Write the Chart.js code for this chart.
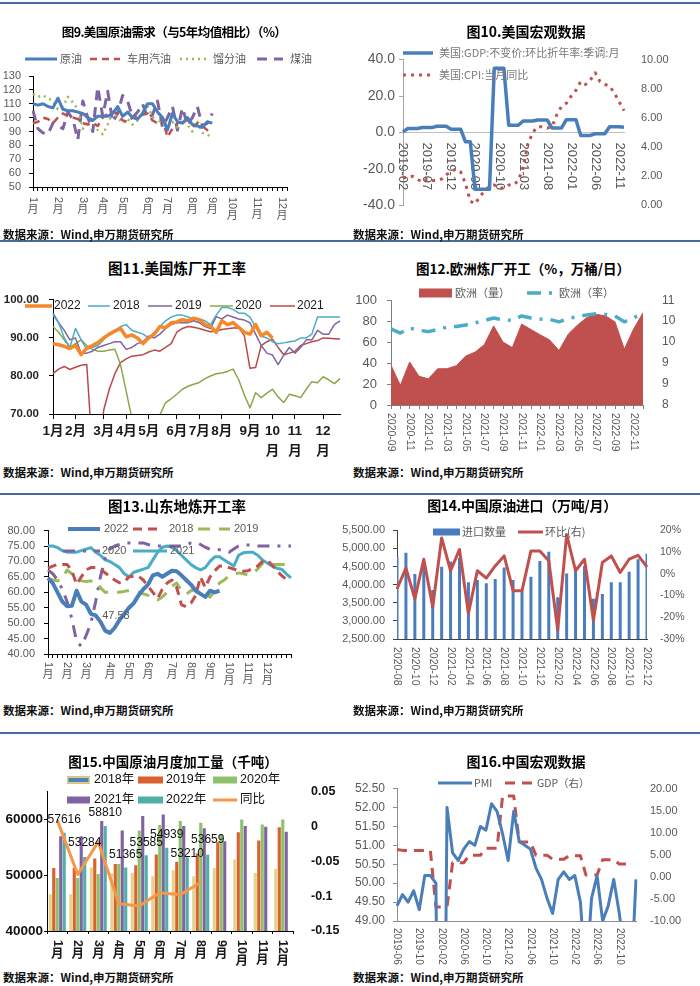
<!DOCTYPE html>
<html>
<head>
<meta charset="utf-8">
<script src="https://cdn.jsdelivr.net/npm/chart.js@4.4.1/dist/chart.umd.min.js"></script>
<style>
html,body{margin:0;padding:0;}
body{width:700px;height:986px;position:relative;background:#fff;overflow:hidden;}
.sep{position:absolute;left:0;width:700px;height:2px;background:#4a6a9c;}
.ttl{position:absolute;width:420px;text-align:center;font-family:"Noto Sans CJK SC",sans-serif;font-weight:700;color:#000;line-height:20px;height:20px;white-space:nowrap;}
.src{position:absolute;font-family:"Noto Sans CJK SC",sans-serif;font-size:11.5px;font-weight:700;color:#111;line-height:16px;white-space:nowrap;}
canvas{position:absolute;}
</style>
</head>
<body>
<div class="sep" style="top:2px"></div>
<div class="sep" style="top:240px"></div>
<div class="sep" style="top:493px"></div>
<div class="sep" style="top:732px"></div>

<canvas id="c9"></canvas><canvas id="c10"></canvas>
<canvas id="c11"></canvas><canvas id="c12"></canvas>
<canvas id="c13"></canvas><canvas id="c14"></canvas>
<canvas id="c15"></canvas><canvas id="c16"></canvas>

<div class="ttl" style="left:-36px;top:22px;font-size:12.5px;letter-spacing:-0.6px">图9.美国原油需求（与5年均值相比）（%）</div>
<div class="ttl" style="left:316px;top:21px;font-size:14px">图10.美国宏观数据</div>
<div class="ttl" style="left:-33px;top:258px;font-size:14.5px">图11.美国炼厂开工率</div>
<div class="ttl" style="left:313px;top:258px;font-size:13.5px">图12.欧洲炼厂开工（%，万桶/日）</div>
<div class="ttl" style="left:-33px;top:496px;font-size:14.5px">图13.山东地炼开工率</div>
<div class="ttl" style="left:312px;top:495px;font-size:14px;letter-spacing:-0.3px">图14.中国原油进口（万吨/月）</div>
<div class="ttl" style="left:-37px;top:751px;font-size:13.5px">图15.中国原油月度加工量（千吨）</div>
<div class="ttl" style="left:316px;top:751px;font-size:14px">图16.中国宏观数据</div>

<div class="src" style="left:3px;top:226px">数据来源：Wind,申万期货研究所</div>
<div class="src" style="left:353px;top:226px">数据来源：Wind,申万期货研究所</div>
<div class="src" style="left:3px;top:464px">数据来源：Wind,申万期货研究所</div>
<div class="src" style="left:353px;top:464px">数据来源：Wind,申万期货研究所</div>
<div class="src" style="left:3px;top:702px">数据来源：Wind,申万期货研究所</div>
<div class="src" style="left:353px;top:702px">数据来源：Wind,申万期货研究所</div>
<div class="src" style="left:3px;top:969px">数据来源：Wind,申万期货研究所</div>
<div class="src" style="left:353px;top:969px">数据来源：Wind,申万期货研究所</div>

<script>
// ================= DATA =================
const weeks52 = Array.from({length: 52}, (_, i) => '第' + (i + 1) + '周');
function monthRange(y0, m0, y1, m1) {
  const out = []; let y = y0, m = m0;
  while (y < y1 || (y === y1 && m <= m1)) { out.push(y + '-' + String(m).padStart(2, '0')); m++; if (m > 12) { m = 1; y++; } }
  return out;
}
const monthNames = ['1月','2月','3月','4月','5月','6月','7月','8月','9月','10月','11月','12月'];

// Fig 9
const c9MonthPos = [0,5,10,14,18,23,27,32,36,40,45,50];
const c9Crude = [110,109,110,108,107,114,106,105,105,104,103,100,98,101,101,101,103,108,101,104,100,99,103,110,110,104,100,91,103,97,96,100,95,94,93,97,96];
const c9Gasoline = [96,97,100,99,96,100,103,101,100,99,96,95,96,94,100,103,104,103,98,97,100,101,102,103,98,96,99,86,92,96,97,99,93,96,94,91,90];
const c9Distillate = [117,115,116,114,112,106,108,115,111,106,92,97,98,91,88,95,104,100,96,99,95,98,104,108,101,95,100,93,97,93,98,95,90,97,89,88,85];
const c9Jet = [105,92,89,88,96,94,92,104,99,84,112,100,90,122,101,119,97,103,116,112,100,104,110,100,102,112,93,100,108,91,107,95,100,108,94,96,103];

// Fig 10
const c10Months = monthRange(2019, 2, 2022, 12);
const c10TickStep = 5;
const c10GDP = [0.3,2.2,2.2,2.2,2.7,2.7,2.7,3.4,3.4,3.4,1.8,1.8,1.8,-5.1,-5.1,-31.2,-31.2,-31.2,-31.2,35.3,35.3,35.3,4.0,4.0,4.0,6.3,6.3,6.3,6.9,6.9,6.9,2.5,2.5,2.5,7.0,7.0,7.0,-1.6,-1.6,-1.6,-0.7,-0.7,-0.7,3.2,3.2,3.2,2.9];
const c10CPI = [1.9,1.9,2.0,1.8,1.6,1.8,1.7,1.7,1.8,2.1,2.3,2.5,2.3,1.5,0.3,0.1,0.6,1.0,1.3,1.4,1.2,1.2,1.4,1.4,1.7,2.6,4.2,5.0,5.4,5.4,5.3,5.4,6.2,6.8,7.0,7.5,7.9,8.5,8.3,8.6,9.1,8.5,8.3,8.2,7.7,7.1,6.5];

// Fig 11
const c11MonthPos = [0,4,9,13,17,22,26,30,35,39,43,48];
const c11Y2022 = [88.5,88.2,87.8,87.2,88.0,85.6,87.3,88.0,88.8,90.0,91.0,91.8,92.5,90.3,90.8,90.0,88.5,90.0,91.0,93.0,92.7,94.0,94.2,94.8,94.5,95.2,94.8,93.5,93.0,91.5,94.5,93.5,94.0,92.8,91.5,91.0,93.5,90.6,91.5,90.0];
const c11Y2018 = [96,94,90,87.5,92.5,89.5,87,87.5,88,89.5,91,92,93,93.5,92,91.5,91,90,91.5,93,94.5,95.5,96,96,95.5,95,95,94.5,93.5,96,98,98,97.5,96.5,96.5,95.5,93,90.5,90,89,88.5,88.7,89,89.2,90,90,91,95.5,95.5,95.5,95.5,95.5];
const c11Y2019 = [96.5,94,92,89.5,90,86,86,86.5,87.5,88,88.5,89,89,87,87.5,88.5,89,90.5,90,91,92.5,93.5,94,94,94,94.5,94,93,92.5,95.6,95,96,95.5,95,94.7,94,91,88,86,85.5,83,85.5,87.5,86,87.5,89.5,89.5,92,91,91,93.5,94.5];
const c11Y2020 = [93,91.5,89.5,87.5,88.5,89.5,88,87,86.5,86.5,86.8,87,83,76,69,66,67,68,68.5,69.8,73,74,75.2,76.5,77.3,77.8,78.3,79.3,80,80.6,80.8,81.2,81.8,79,75,71.6,75.6,74.3,75.5,76.5,74.5,73,75.2,74.8,74.3,76.5,78.5,78.2,79.8,79,78,79.3];
const c11Y2021 = [80.6,81.8,82.5,81.7,82.3,82.8,83,60,55,71,76.5,80.6,83.5,84.5,85.2,85.4,85.6,86.3,86.8,86.5,87.5,88.5,91.5,92.5,93,92.8,92.5,92,91.6,91.8,92.2,92.4,92.6,92.7,90.6,82,82.2,88,89,89.7,87.5,85.6,86,86.5,88,88.5,89,89.3,90,89.9,89.8,89.7];

// Fig 12
const c12Months = monthRange(2020, 9, 2022, 12);
const c12TickStep = 2;
const c12Volume = [38,18.7,41,27.4,25,34.6,34.6,37.5,46.7,50.4,57.6,75.5,60,54.8,77.2,72,66.9,62,51.9,67.7,76.4,83.6,86.5,85,79.3,53.3,72.6,88];
const c12Rate = [10.18,10.06,10.2,10.14,10.1,10.16,10.23,10.25,10.29,10.35,10.42,10.49,10.44,10.42,10.55,10.49,10.46,10.45,10.38,10.48,10.53,10.58,10.61,10.59,10.55,10.38,10.49,10.64];

// Fig 13
const c13MonthPos = [0,4,8,13,17,21,26,30,34,38,42,46];
const c13Y2022 = [64.6,63,60,57,55.5,55.6,60.5,57,56,53,52.5,50.5,47.58,46.8,48.5,51,53,55,56.5,59,61,62.5,65.5,66,65,66,67,66.8,65.5,64,62.5,60.5,59.5,58.5,60.5,60,60.5];
const c13Y2018 = [67.8,68.5,69,69,69,67,62.6,65,67.3,68,68,67.5,66.3,65,64,63.1,63.4,65,65.2,65.2,64,62,60,58,61,63,64,61.6,56,55.3,56.5,59,65,61.5,65,67,68.5,68.5,68,67.5,67,66.8,67,67.8,68.5,70,70.4,68.9,67,65.5,64.2,64.5];
const c13Y2019 = [64.5,64,63.7,64.5,67.2,66,65,63.7,63.5,63.7,63.7,61.5,60,60,60,60,60.3,60.6,60.3,60,59.5,59,58,57.5,58.5,60,62,63,60.5,59.4,60.5,61,60.5,60,58.4,60.5,63,64,65.3,65.8,66.3,66,65.6,66.3,67.5,69.4,69.2,69,69,69,69,69];
const c13Y2020 = [67.2,66,64,61,57,51.5,44,42.5,46,50,57,65,71,74,75,75.5,76,76,76,76,76,75.5,75,75,75,75,75,75,75,75.5,76,76.2,75.5,74.6,74,74,73.8,73.5,73,74,75,75.3,75.3,75.3,75,75,75,75,75,75,75,75];
const c13Y2021 = [75,75,74.5,73.5,73,73,73,73.5,74,74.5,73,72,70.5,70,69,68,66,65,66.5,67,67.5,68,70.5,73,74.6,75,74.6,73.5,72,70.5,69,68,67.3,68,70,71.5,71.5,70.5,69.5,68.5,72,72.8,73,73,72,70.5,69.5,68.5,67.8,67.5,66,64.7];
const c13LabelIdx = [12];

// Fig 14
const c14Months = monthRange(2020, 8, 2022, 12);
const c14TickStep = 2;
const c14Imports = [4763,4881,4291,4518,3855,4491,4636,4745,4063,4127,4036,4154,4472,4127,3836,4218,4654,4909,3654,4309,4400,4518,3609,3745,4063,4063,4354,4700,4854];
const c14MoM = [-7,2.6,-11.5,6.7,-15.3,16.5,1.4,11.2,-18.3,1.4,-2,3.6,8.2,-7.8,-7.8,10.5,10.5,6,-25.9,18,1.4,6.7,-21.4,5.2,8.2,0.6,6.7,8.5,3.2];

// Fig 15
const c15LeftTicks = [40000, 50000, 60000];
const c15Y2018 = [46600,46600,51400,50400,50400,49800,50900,49800,51300,52800,50400,51100];
const c15Y2019 = [51300,51300,53000,52000,51800,53700,52400,53900,55900,57700,56200,58600];
const c15Y2020 = [49500,49500,50200,52000,58000,59000,59700,59400,57400,60000,59100,60000];
const c15Y2021 = [57000,57000,59700,58000,60600,60900,58800,58400,56100,58800,58700,57800];
const c15Y2022 = [57616,53284,58810,51365,53585,54939,53210,53659];
const c15YoY = [0.009,-0.069,-0.022,-0.111,-0.114,-0.095,-0.098,-0.080];
const c15LabelIdx = [0,1,2,3,4,5,6,7];

// Fig 16
const c16Months = monthRange(2019, 6, 2023, 1);
const c16TickStep = 4;
const c16PMI = [49.4,49.7,49.5,49.8,49.3,50.2,50.2,50.0,35.7,52.0,50.8,50.6,50.9,51.1,51.0,51.5,51.4,52.1,51.9,51.3,50.6,51.9,51.1,51.0,50.9,50.4,50.1,49.6,49.2,50.1,50.3,50.1,50.2,49.5,47.4,49.6,50.2,49.0,49.4,50.1,49.2,48.0,47.0,50.1];
const c16GDP = [6.2,6.0,6.0,6.0,6.0,6.0,6.0,-6.8,-6.8,-6.8,3.2,3.2,3.2,4.9,4.9,4.9,6.5,6.5,6.5,18.3,18.3,18.3,7.9,7.9,7.9,4.9,4.9,4.9,4.0,4.0,4.0,4.8,4.8,4.8,0.4,0.4,0.4,3.9,3.9,3.9,2.9,2.9,2.9,null];

// ================= HELPERS =================
const NUMF = '"Liberation Sans", "Noto Sans CJK SC", sans-serif';
const CJKF = '"Noto Sans CJK SC", "Liberation Sans", sans-serif';
const GRAY = '#595959';

Chart.defaults.animation = false;
Chart.defaults.responsive = false;
Chart.defaults.plugins.legend.display = false;
Chart.defaults.plugins.tooltip.enabled = false;
Chart.defaults.elements.point.radius = 0;
Chart.defaults.elements.point.hoverRadius = 0;
Chart.defaults.elements.line.tension = 0;
Chart.defaults.elements.line.borderJoinStyle = 'round';
Chart.defaults.font.family = NUMF;

function place(id, r) {
  const c = document.getElementById(id);
  c.width = r.w; c.height = r.h; c.style.left = r.x + 'px'; c.style.top = r.y + 'px';
  return c;
}
function yAx(o) {
  const line = o.line !== false;
  const ax = {
    type: 'linear', position: o.pos || 'left', min: o.min, max: o.max,
    ticks: { stepSize: o.step, callback: o.fmt || (v => String(v)), font: Object.assign({family: NUMF}, o.font || {}),
             color: o.color || GRAY, padding: o.pad, autoSkip: false },
    grid: { display: line, drawOnChartArea: false, drawTicks: true, tickLength: o.tick === undefined ? 4 : o.tick, color: o.lineColor || '#000' },
    border: { display: line, color: o.lineColor || '#000', width: 1 },
    afterFit: s => { s.width = o.width; }
  };
  if (o.tickValues) ax.afterBuildTicks = s => { s.ticks = o.tickValues.map(v => ({value: v})); };
  return ax;
}
function xAx(o) {
  const t = o.tick || 0;
  return {
    type: 'category', offset: !!o.offset,
    ticks: { display: false },
    grid: { display: t > 0, drawOnChartArea: false, drawTicks: true, tickLength: t, color: o.tickColor || o.lineColor || '#000', offset: !!o.offset },
    border: { display: true, color: o.lineColor || '#000', width: 1 },
    afterFit: s => { s.height = o.height; }
  };
}
function everyN(cats, n) { return cats.map((c, i) => [i, c]).filter(p => p[0] % n === 0); }
function atPos(pos, names) { return names.map((t, k) => [pos[k], t]); }

function xLabels(o) {
  const draw = (chart) => {
    const ctx = chart.ctx, xs = chart.scales.x;
    const y0 = (o.yAxis ? chart.scales[o.yAxis].getPixelForValue(o.yValue) : chart.chartArea.bottom) + o.gap;
    ctx.save();
    ctx.fillStyle = o.color; ctx.font = o.font;
    for (const [idx, text] of o.items) {
      const x = xs.getPixelForValue(idx);
      if (o.mode === 'rot') {
        ctx.save(); ctx.translate(x, y0); ctx.rotate(Math.PI / 2);
        ctx.textAlign = 'left'; ctx.textBaseline = 'middle'; ctx.fillText(text, 0, 0); ctx.restore();
      } else if (o.mode === 'vert') {
        const num = text.replace('月', '');
        const w = ctx.measureText(num).width;
        ctx.save(); ctx.translate(x, y0); ctx.rotate(Math.PI / 2);
        ctx.textAlign = 'left'; ctx.textBaseline = 'middle'; ctx.fillText(num, 0, 0); ctx.restore();
        ctx.textAlign = 'center'; ctx.textBaseline = 'top'; ctx.fillText('月', x, y0 + w + 1);
      } else {
        const lines = text.length > 2 ? [text.slice(0, -1), text.slice(-1)] : [text];
        ctx.textAlign = 'center'; ctx.textBaseline = 'top';
        lines.forEach((ln, k) => ctx.fillText(ln, x + (o.dx || 0), y0 + k * o.lh));
      }
    }
    ctx.restore();
  };
  return o.under ? { id: 'xlab', beforeDatasetsDraw: draw } : { id: 'xlab', afterDraw: draw };
}
function legendP(o) {
  return { id: 'cleg', afterDraw(chart) {
    const ctx = chart.ctx;
    ctx.save();
    for (const it of o.items) {
      const ds = chart.data.datasets[it.ds];
      const y = it.y - o.oy;
      if (it.kind === 'box') {
        ctx.fillStyle = it.fill || ds.backgroundColor;
        ctx.fillRect(it.x1 - o.ox, y - it.h / 2, it.x2 - it.x1, it.h);
        if (it.stroke) { ctx.strokeStyle = it.stroke; ctx.lineWidth = 1.5; ctx.strokeRect(it.x1 - o.ox + 0.75, y - it.h / 2 + 0.75, it.x2 - it.x1 - 1.5, it.h - 1.5); }
      } else {
        ctx.strokeStyle = ds.borderColor; ctx.lineWidth = it.lw || ds.borderWidth;
        ctx.setLineDash(ds.borderDash || []); ctx.lineCap = 'butt';
        ctx.beginPath(); ctx.moveTo(it.x1 - o.ox, y); ctx.lineTo(it.x2 - o.ox, y); ctx.stroke(); ctx.setLineDash([]);
      }
      ctx.fillStyle = o.color; ctx.font = o.font; ctx.textAlign = 'left'; ctx.textBaseline = 'middle';
      ctx.fillText(ds.label, it.tx - o.ox, y);
    }
    ctx.restore();
  }};
}
function ptLabels(o) {
  return { id: 'ptl', afterDatasetsDraw(chart) {
    const ctx = chart.ctx, meta = chart.getDatasetMeta(o.ds), data = chart.data.datasets[o.ds].data;
    ctx.save(); ctx.font = o.font; ctx.fillStyle = o.color; ctx.textAlign = o.align; ctx.textBaseline = 'middle';
    o.indices.forEach((idx, k) => {
      const el = meta.data[idx]; if (!el) return;
      const dy = o.dys ? o.dys[k] : o.dy;
      ctx.fillText(String(data[idx]), el.x + (o.dx || 0), el.y + dy);
    });
    ctx.restore();
  }};
}

// ================= FIG 9 =================
const r9 = {x: 0, y: 45, w: 347, h: 182};
new Chart(place('c9', r9), {
  type: 'line',
  data: { labels: weeks52, datasets: [
    {label: '原油', data: c9Crude, borderColor: '#4a7ebb', borderWidth: 3},
    {label: '车用汽油', data: c9Gasoline, borderColor: '#c0504d', borderWidth: 2.5, borderDash: [7, 5]},
    {label: '馏分油', data: c9Distillate, borderColor: '#9bbb59', borderWidth: 2.5, borderDash: [2, 4]},
    {label: '煤油', data: c9Jet, borderColor: '#8064a2', borderWidth: 3, borderDash: [10, 7]}
  ]},
  options: {
    layout: {padding: {top: 31, right: 60, left: 0, bottom: 0}},
    scales: {
      x: xAx({height: 40, tick: 4, lineColor: '#000'}),
      y: yAx({min: 50, max: 130, step: 10, width: 33, font: {size: 11}, tick: 4, pad: 8, lineColor: '#000'})
    }
  },
  plugins: [
    xLabels({mode: 'vert', items: atPos(c9MonthPos, monthNames), gap: 10, font: '11px ' + NUMF, color: GRAY}),
    legendP({ox: r9.x, oy: r9.y, font: '11px ' + CJKF, color: GRAY, items: [
      {ds: 0, x1: 25, x2: 57, tx: 60, y: 59}, {ds: 1, x1: 90, x2: 120, tx: 127, y: 59},
      {ds: 2, x1: 180, x2: 207, tx: 213, y: 59}, {ds: 3, x1: 257, x2: 283, tx: 290, y: 59}]})
  ]
});

// ================= FIG 10 =================
const r10 = {x: 350, y: 40, w: 350, h: 185};
new Chart(place('c10', r10), {
  type: 'line',
  data: { labels: c10Months, datasets: [
    {label: '美国:GDP:不变价:环比折年率:季调:月', data: c10GDP, borderColor: '#4a7ebb', borderWidth: 3.5, yAxisID: 'y'},
    {label: '美国:CPI:当月同比', data: c10CPI, borderColor: '#c0504d', borderWidth: 3, borderDash: [3, 5], yAxisID: 'y2'}
  ]},
  options: {
    layout: {padding: {top: 12, bottom: 16, left: 0, right: 0}},
    scales: {
      x: {type: 'category', position: {y: 0}, offset: false, ticks: {display: false}, grid: {display: false}, border: {display: true, color: '#bfbfbf'}},
      y: yAx({min: -40, max: 40, step: 20, fmt: v => v.toFixed(1), width: 53, font: {size: 14}, tick: 4, pad: 4, lineColor: '#a6a6a6'}),
      y2: yAx({pos: 'right', min: 0, max: 10, step: 2, fmt: v => v.toFixed(2), width: 76, font: {size: 11}, line: false, pad: 13})
    }
  },
  plugins: [
    xLabels({mode: 'rot', under: true, yAxis: 'y', yValue: 0, items: everyN(c10Months, c10TickStep), gap: 10, font: '13px ' + NUMF, color: GRAY}),
    legendP({ox: r10.x, oy: r10.y, font: '11px ' + CJKF, color: '#7a7a7a', items: [
      {ds: 0, x1: 403, x2: 433, tx: 439, y: 53}, {ds: 1, x1: 403, x2: 433, tx: 439, y: 75}]})
  ]
});

// ================= FIG 11 =================
const r11 = {x: 0, y: 283, w: 347, h: 181};
const c11x = xAx({height: 50, tick: 5, lineColor: '#000'});
c11x.grid.color = ctx => c11MonthPos.includes(ctx.index) ? '#000' : 'rgba(0,0,0,0)';
new Chart(place('c11', r11), {
  type: 'line',
  data: { labels: weeks52, datasets: [
    {label: '2022', data: c11Y2022, borderColor: '#f5882a', borderWidth: 3.5},
    {label: '2018', data: c11Y2018, borderColor: '#4bacc6', borderWidth: 1.5},
    {label: '2019', data: c11Y2019, borderColor: '#7e64a0', borderWidth: 1.5},
    {label: '2020', data: c11Y2020, borderColor: '#8aa84b', borderWidth: 1.5},
    {label: '2021', data: c11Y2021, borderColor: '#b94a48', borderWidth: 1.5}
  ]},
  options: {
    layout: {padding: {top: 12, right: 7, left: 0, bottom: 0}},
    scales: {
      x: c11x,
      y: yAx({min: 70, max: 100, step: 10, fmt: v => v.toFixed(2), width: 53, font: {size: 11.5, weight: 'bold'}, color: '#262626', tick: 4, pad: 10, lineColor: '#000'})
    }
  },
  plugins: [
    xLabels({mode: 'h', items: atPos(c11MonthPos, monthNames), gap: 11, lh: 20, font: 'bold 13.5px ' + NUMF, color: '#1a1a1a'}),
    legendP({ox: r11.x, oy: r11.y, font: '12px ' + NUMF, color: '#1a1a1a', items: [
      {ds: 0, x1: 25, x2: 52, tx: 54, y: 306}, {ds: 1, x1: 88, x2: 110, tx: 113, y: 306},
      {ds: 2, x1: 148, x2: 172, tx: 175, y: 306}, {ds: 3, x1: 210, x2: 233, tx: 235, y: 306},
      {ds: 4, x1: 270, x2: 295, tx: 297, y: 306}]})
  ]
});

// ================= FIG 12 =================
const r12 = {x: 350, y: 278, w: 350, h: 177};
new Chart(place('c12', r12), {
  type: 'line',
  data: { labels: c12Months, datasets: [
    {label: '欧洲（量）', data: c12Volume, borderColor: '#c0504d', backgroundColor: '#c0504d', borderWidth: 1, fill: 'origin', yAxisID: 'y', order: 1},
    {label: '欧洲（率）', data: c12Rate, borderColor: '#4bacc6', borderWidth: 3.5, borderDash: [14, 8, 3, 8], yAxisID: 'y2', order: 0}
  ]},
  options: {
    layout: {padding: {top: 11, right: 0, left: 0, bottom: 0}},
    scales: {
      x: xAx({height: 50, tick: 4, lineColor: '#7f7f7f'}),
      y: yAx({min: 0, max: 100, step: 20, width: 41, font: {size: 13}, tick: 4, pad: 10, lineColor: '#7f7f7f'}),
      y2: yAx({pos: 'right', min: 8, max: 11, step: 0.6, fmt: v => String(Math.round(v)), width: 57, font: {size: 12}, line: false, pad: 15})
    }
  },
  plugins: [
    xLabels({mode: 'rot', items: everyN(c12Months, c12TickStep), gap: 8, font: '10.5px ' + NUMF, color: GRAY}),
    legendP({ox: r12.x, oy: r12.y, font: '11px ' + CJKF, color: GRAY, items: [
      {ds: 0, kind: 'box', x1: 419, x2: 452, h: 9, tx: 455, y: 293}, {ds: 1, x1: 527, x2: 557, tx: 559, y: 293}]})
  ]
});

// ================= FIG 13 =================
const r13 = {x: 0, y: 515, w: 347, h: 175};
new Chart(place('c13', r13), {
  type: 'line',
  data: { labels: weeks52, datasets: [
    {label: '2022', data: c13Y2022, borderColor: '#4a7ebb', borderWidth: 4},
    {label: '2018', data: c13Y2018, borderColor: '#c0504d', borderWidth: 3, borderDash: [9, 6]},
    {label: '2019', data: c13Y2019, borderColor: '#9bbb59', borderWidth: 3, borderDash: [12, 9]},
    {label: '2020', data: c13Y2020, borderColor: '#8064a2', borderWidth: 3, borderDash: [12, 8, 3, 8]},
    {label: '2021', data: c13Y2021, borderColor: '#4bacc6', borderWidth: 3}
  ]},
  options: {
    layout: {padding: {top: 11, right: 56, left: 0, bottom: 0}},
    scales: {
      x: xAx({height: 36, tick: 4, lineColor: '#000'}),
      y: yAx({min: 40, max: 80, step: 5, fmt: v => v.toFixed(2), width: 48, font: {size: 11}, tick: 4, pad: 9, lineColor: '#000'})
    }
  },
  plugins: [
    xLabels({mode: 'vert', items: atPos(c13MonthPos, monthNames), gap: 8, font: '11px ' + NUMF, color: GRAY}),
    legendP({ox: r13.x, oy: r13.y, font: '11px ' + NUMF, color: GRAY, items: [
      {ds: 0, x1: 68, x2: 100, tx: 104, y: 529}, {ds: 1, x1: 133, x2: 163, tx: 169, y: 529},
      {ds: 2, x1: 198, x2: 230, tx: 234, y: 529}, {ds: 3, x1: 63, x2: 100, tx: 102, y: 551},
      {ds: 4, x1: 133, x2: 167, tx: 170, y: 551}]}),
    ptLabels({ds: 0, indices: c13LabelIdx, font: '11px ' + NUMF, color: GRAY, align: 'left', dx: -3, dy: -15})
  ]
});

// ================= FIG 14 =================
const r14 = {x: 335, y: 515, w: 365, h: 175};
new Chart(place('c14', r14), {
  type: 'bar',
  data: { labels: c14Months, datasets: [
    {type: 'bar', label: '进口数量', data: c14Imports, backgroundColor: '#4a7dbd', yAxisID: 'y', order: 1, barPercentage: 0.42, categoryPercentage: 0.8},
    {type: 'line', label: '环比(右)', data: c14MoM, borderColor: '#c0504d', borderWidth: 3, yAxisID: 'y2', order: 0}
  ]},
  options: {
    layout: {padding: {top: 14, right: 0, left: 0, bottom: 0}},
    scales: {
      x: xAx({height: 51, tick: 0, lineColor: '#404040', offset: false}),
      y: yAx({min: 2500, max: 5500, step: 500, fmt: v => v.toLocaleString('en-US', {minimumFractionDigits: 2, maximumFractionDigits: 2}), width: 62, font: {size: 11}, tick: 4, pad: 8, lineColor: '#404040'}),
      y2: yAx({pos: 'right', min: -30, max: 20, step: 10, fmt: v => v + '%', width: 53, font: {size: 10.5}, line: false, pad: 9})
    }
  },
  plugins: [
    xLabels({mode: 'rot', items: everyN(c14Months, c14TickStep), gap: 8, font: '10.5px ' + NUMF, color: GRAY}),
    legendP({ox: r14.x, oy: r14.y, font: '11px ' + CJKF, color: GRAY, items: [
      {ds: 0, kind: 'box', x1: 433, x2: 460, h: 7, tx: 462, y: 532}, {ds: 1, x1: 518, x2: 543, tx: 545, y: 532}]})
  ]
});

// ================= FIG 15 =================
const r15 = {x: 0, y: 770, w: 347, h: 198};
const barOpt = {categoryPercentage: 0.85, barPercentage: 0.9, borderWidth: 0, yAxisID: 'y', order: 1};
new Chart(place('c15', r15), {
  type: 'bar',
  data: { labels: monthNames, datasets: [
    Object.assign({label: '2018年', data: c15Y2018, backgroundColor: '#e2d38d'}, barOpt),
    Object.assign({label: '2019年', data: c15Y2019, backgroundColor: '#d8612e'}, barOpt),
    Object.assign({label: '2020年', data: c15Y2020, backgroundColor: '#8fc16b'}, barOpt),
    Object.assign({label: '2021年', data: c15Y2021, backgroundColor: '#8064a2'}, barOpt),
    Object.assign({label: '2022年', data: c15Y2022, backgroundColor: '#4fb0aa'}, barOpt),
    {type: 'line', label: '同比', data: c15YoY, borderColor: '#f79646', borderWidth: 3, yAxisID: 'y2', order: 0}
  ]},
  options: {
    layout: {padding: {top: 18, right: 0, left: 0, bottom: 0}},
    scales: {
      x: xAx({height: 37, tick: 3, lineColor: '#000', offset: true}),
      y: yAx({min: 40000, max: 65000, tickValues: c15LeftTicks, width: 47, font: {size: 13.5, weight: 'bold'}, color: '#111', tick: 3, pad: 1, lineColor: '#000'}),
      y2: yAx({pos: 'right', min: -0.15, max: 0.05, step: 0.05, width: 54, font: {size: 12.5, weight: 'bold'}, color: '#111', line: false, pad: 14})
    }
  },
  plugins: [
    xLabels({mode: 'vert', items: monthNames.map((t, i) => [i, t]), gap: 9, font: 'bold 12.5px ' + NUMF, color: '#1a1a1a'}),
    legendP({ox: r15.x, oy: r15.y, font: '12.5px ' + NUMF, color: '#111', items: [
      {ds: 0, kind: 'box', x1: 67, x2: 90, h: 7, tx: 94, y: 780, fill: '#4f81bd', stroke: '#e6cf6a'},
      {ds: 1, kind: 'box', x1: 138, x2: 163, h: 7, tx: 166, y: 780},
      {ds: 2, kind: 'box', x1: 213, x2: 237, h: 7, tx: 240, y: 780},
      {ds: 3, kind: 'box', x1: 67, x2: 90, h: 7, tx: 94, y: 800},
      {ds: 4, kind: 'box', x1: 138, x2: 163, h: 7, tx: 166, y: 800},
      {ds: 5, x1: 213, x2: 237, tx: 240, y: 800}]}),
    ptLabels({ds: 4, indices: c15LabelIdx, font: '12px ' + NUMF, color: '#111', align: 'center', dx: 0, dys: [-13, -14, -13, -13, -13, -13, -4, -15]})
  ]
});

// ================= FIG 16 =================
const r16 = {x: 350, y: 772, w: 350, h: 196};
new Chart(place('c16', r16), {
  type: 'line',
  data: { labels: c16Months, datasets: [
    {label: 'PMI', data: c16PMI, borderColor: '#4a7ebb', borderWidth: 3, yAxisID: 'y'},
    {label: 'GDP（右）', data: c16GDP, borderColor: '#c0504d', borderWidth: 3, borderDash: [10, 7], yAxisID: 'y2'}
  ]},
  options: {
    layout: {padding: {top: 16, right: 0, left: 0, bottom: 0}},
    scales: {
      x: xAx({height: 47, tick: 0, lineColor: '#8c8c8c'}),
      y: yAx({min: 49, max: 52.5, step: 0.5, fmt: v => v.toFixed(2), width: 47, font: {size: 12}, tick: 4, pad: 8, lineColor: '#8c8c8c'}),
      y2: yAx({pos: 'right', min: -10, max: 20, step: 5, fmt: v => v.toFixed(2), width: 64, font: {size: 11}, line: false, pad: 10})
    }
  },
  plugins: [
    xLabels({mode: 'rot', items: everyN(c16Months, c16TickStep), gap: 7, font: '10px ' + NUMF, color: GRAY}),
    legendP({ox: r16.x, oy: r16.y, font: '10.5px ' + CJKF, color: GRAY, items: [
      {ds: 0, x1: 438, x2: 472, tx: 474, y: 783}, {ds: 1, x1: 505, x2: 532, tx: 537, y: 783}]})
  ]
});
</script>
</body>
</html>
